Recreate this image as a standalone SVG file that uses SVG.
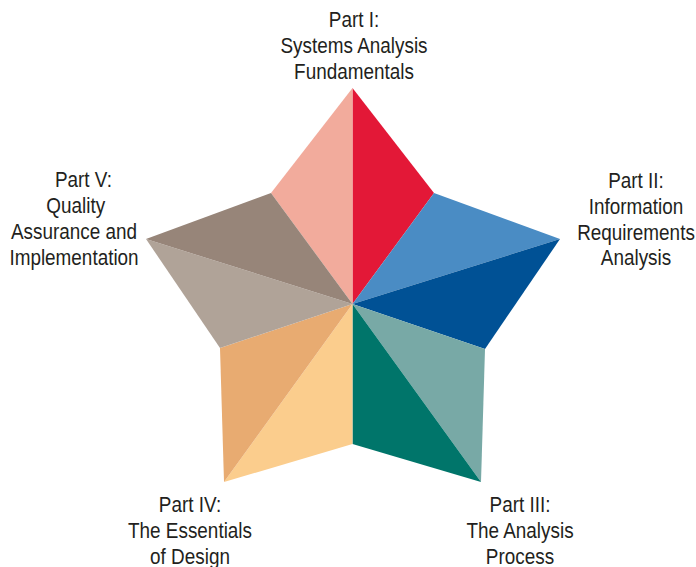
<svg xmlns="http://www.w3.org/2000/svg" width="696" height="567" viewBox="0 0 696 567">
<style>
.lbl{font-family:"Liberation Sans",Arial,sans-serif;font-size:22px;fill:#231f20;text-anchor:middle}
</style>
<rect width="696" height="567" fill="#ffffff"/>
<g id="part1">
<polygon points="352.5,304 352.5,88 434,193" fill="#e31837"/>
<polygon points="352.5,304 271,193 352.5,88" fill="#f2ab9c"/>
<g transform="translate(354,0) scale(0.86,1)">
<text class="lbl" x="0" y="27">Part I:</text>
<text class="lbl" x="0" y="53">Systems Analysis</text>
<text class="lbl" x="0" y="79">Fundamentals</text>
</g>
</g>
<g id="part2">
<polygon points="352.5,304 434,193 560,239" fill="#4a8cc4"/>
<polygon points="352.5,304 560,239 485,349" fill="#005195"/>
<g transform="translate(636,0) scale(0.86,1)">
<text class="lbl" x="0" y="188">Part II:</text>
<text class="lbl" x="0" y="214">Information</text>
<text class="lbl" x="0" y="240">Requirements</text>
<text class="lbl" x="0" y="265">Analysis</text>
</g>
</g>
<g id="part3">
<polygon points="352.5,304 485,349 481,482" fill="#78a9a6"/>
<polygon points="352.5,304 481,482 352.5,444" fill="#00756a"/>
<g transform="translate(520,0) scale(0.86,1)">
<text class="lbl" x="0" y="512">Part III:</text>
<text class="lbl" x="0" y="538">The Analysis</text>
<text class="lbl" x="0" y="564">Process</text>
</g>
</g>
<g id="part4">
<polygon points="352.5,304 352.5,444 224,482" fill="#fbcd8d"/>
<polygon points="352.5,304 224,482 220,348" fill="#e8ab71"/>
<g transform="translate(190,0) scale(0.86,1)">
<text class="lbl" x="0" y="512">Part IV:</text>
<text class="lbl" x="0" y="538">The Essentials</text>
<text class="lbl" x="0" y="564">of Design</text>
</g>
</g>
<g id="part5">
<polygon points="352.5,304 220,348 146,239 " fill="#b0a398"/>
<polygon points="352.5,304 146,239 271,193" fill="#978579"/>
<g transform="translate(74,0) scale(0.86,1)">
<text class="lbl" x="11" y="187">Part V:</text>
<text class="lbl" x="2" y="213">Quality</text>
<text class="lbl" x="0" y="239">Assurance and</text>
<text class="lbl" x="0" y="265">Implementation</text>
</g>
</g>
</svg>
